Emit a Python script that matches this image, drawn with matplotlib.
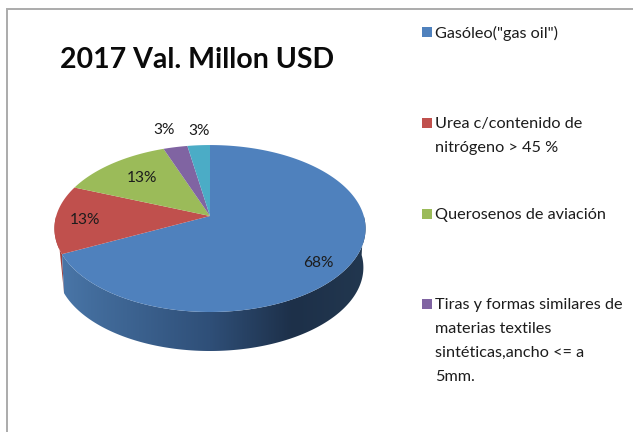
import numpy as np
import matplotlib
matplotlib.use('Agg')
import matplotlib.pyplot as plt
from matplotlib.colors import LinearSegmentedColormap
from matplotlib.patches import Polygon, Rectangle

plt.rcParams['font.family'] = ['Lato', 'DejaVu Sans']

# Datos
titulo = '2017 Val. Millon USD'
valores = [67.8, 13.2, 13.4, 2.9, 2.7]
leyenda = ['Gasóleo("gas oil")',
           'Urea c/contenido de\nnitrógeno > 45 %',
           'Querosenos de aviación',
           'Tiras y formas similares de\nmaterias textiles\nsintéticas,ancho <= a\n5mm.']
colores = ['#4f81bd', '#c0504d', '#9bbb59', '#8064a2', '#4bacc6']

# Geometria del pastel en pixeles
cx, cy = 210, 216
ancho, alto = 153.8, 81.6
k = 0.15  # perspectiva
fondo = 39
escala_fondo = 0.986

fig = plt.figure(figsize=(6.33, 4.32), dpi=100)
ax = fig.add_axes([0, 0, 1, 1])
ax.set_xlim(0, 633)
ax.set_ylim(432, 0)
ax.axis('off')


def proyectar(t):
    u, v = np.cos(t), np.sin(t)
    d = 1 + k * v
    return cx + ancho * u / d, cy - alto * v / d


def arco(a, b):
    return proyectar(np.linspace(a, b, 200))


def borde_inferior(x, y):
    return cx + (x - cx) * escala_fondo, y + fondo


# Marco
ax.plot([7, 7, 633], [432, 9, 9], color='#ababab', lw=1.4, solid_joinstyle='miter')

# Angulos de cada porcion, empezando arriba y en sentido horario
fin = np.cumsum(valores) / np.sum(valores)
angulos = np.pi / 2 - 2 * np.pi * np.concatenate([[0], fin])
izq = -np.pi

# Pared roja, solo asoma una punta a la izquierda
x, y = arco(angulos[1], izq)
xb, yb = borde_inferior(x[0], y[0])
ax.add_patch(Polygon(np.column_stack([np.r_[x, xb], np.r_[y, yb]]), fc='#a03f3c', ec='none'))

# Pared azul con degradado
x, y = arco(0, angulos[1])
xb, yb = borde_inferior(x, y)
pared = Polygon(np.column_stack([np.r_[x, xb[::-1]], np.r_[y, yb[::-1]]]), fc='none', ec='none')
ax.add_patch(pared)
cmap = LinearSegmentedColormap.from_list('pared', [(0, '#4a76a8'), (0.1, '#436d9d'), (0.49, '#2f4f78'),
                                                   (0.76, '#1d3049'), (1, '#22374f')])
img = ax.imshow(np.linspace(0, 1, 256).reshape(1, -1), cmap=cmap, extent=[60, 366, 360, 200],
                aspect='auto', zorder=2)
img.set_clip_path(pared)
ax.set_xlim(0, 633)
ax.set_ylim(432, 0)

# Cara superior
for i, color in enumerate(colores):
    x, y = arco(angulos[i], angulos[i + 1])
    ax.add_patch(Polygon(np.column_stack([np.r_[cx, x], np.r_[cy, y]]), fc=color, ec='none', zorder=3))

# Etiquetas
pos_etiquetas = [(318, 263), (85, 220), (142, 178), (164, 130), (199, 131)]
for v, (px, py) in zip(valores, pos_etiquetas):
    ax.text(px, py, f'{v / sum(valores) * 100:.0f}%', ha='center', va='center',
            fontsize=11.2, color='#1c1c1c', zorder=4)

ax.text(60, 60, titulo, fontsize=20.5, fontweight='bold', color='#0a0a0a', ha='left', va='center')

# Leyenda
pos_leyenda = [32, 123, 214, 304]
for texto, color, py in zip(leyenda, colores, pos_leyenda):
    ax.add_patch(Rectangle((422, py - 5), 9.5, 10, fc=color, ec='none'))
    ax.text(435, py - 6, texto, fontsize=11.7, color='#1c1c1c', ha='left', va='top', linespacing=1.92)

fig.savefig('out.png', dpi=100)
